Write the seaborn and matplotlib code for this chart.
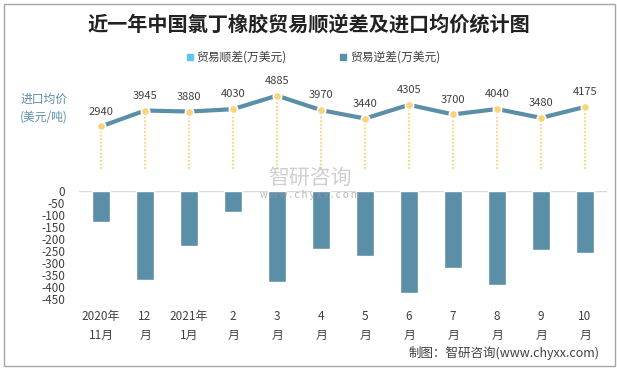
import pandas as pd
import seaborn as sns
import matplotlib
matplotlib.use('Agg')
import matplotlib.pyplot as plt
from matplotlib.patches import Rectangle

# 数据
months = ['2020年\n11月', '12\n月', '2021年\n1月', '2\n月', '3\n月', '4\n月',
          '5\n月', '6\n月', '7\n月', '8\n月', '9\n月', '10\n月']
surplus = [0] * 12  # 贸易顺差(万美元)
deficit = [-128, -369, -228, -87, -381, -240, -269, -427, -319, -390, -244, -257]  # 贸易逆差(万美元)
price = [2940, 3945, 3880, 4030, 4885, 3970, 3440, 4305, 3700, 4040, 3480, 4175]  # 进口均价(美元/吨)

sns.set_theme(style='white')
plt.rcParams['font.family'] = ['Noto Sans CJK SC', 'DejaVu Sans']
plt.rcParams['axes.unicode_minus'] = False

BLUE = '#5B8FA8'
LIGHT = '#5BC8F0'
GOLD = '#F8D47A'
TXT = '#404040'

df = pd.DataFrame({'月份': months, '逆差': deficit, '均价': price, 'x': range(12)})

W, H = 617, 370
fig = plt.figure(figsize=(W / 100, H / 100), dpi=100)

def box(l, t, r, b):
    return [l / W, 1 - b / H, (r - l) / W, (b - t) / H]

# 下方柱状图
ax = fig.add_axes(box(79, 191, 607, 299))
sns.barplot(data=df, x='月份', y='逆差', color=BLUE, width=0.41, saturation=1, ax=ax)
ax.set_ylim(-450, 0)
ax.set_xlim(-0.5, 11.5)
ax.set_yticks(range(-450, 1, 50))
ax.tick_params(axis='y', labelsize=8.5, colors=TXT, pad=10, length=0)
ax.tick_params(axis='x', labelsize=8.5, colors=TXT, pad=8, length=0)
for lbl in ax.get_xticklabels():
    lbl.set_linespacing(1.55)
ax.set_xlabel('')
ax.set_ylabel('')
for s in ax.spines.values():
    s.set_visible(False)
ax.axhline(0, color='#D9D9D9', lw=1, zorder=0)

# 上方折线图
ax2 = fig.add_axes(box(79, 78, 607, 169))
ax2.vlines(df['x'], 250, df['均价'], colors=GOLD, linestyles=(0, (1, 1)), lw=1.3, zorder=1)
sns.lineplot(data=df, x='x', y='均价', color=BLUE, lw=3, ax=ax2, zorder=2)
ax2.plot(df['x'], df['均价'], 'o', color=GOLD, ms=6, mec='white', mew=1.2, zorder=3)
for xi, v in zip(df['x'], df['均价']):
    ax2.text(xi, v + 620, str(v), ha='center', va='bottom', fontsize=8, color=TXT)
ax2.set_xlim(-0.5, 11.5)
ax2.set_ylim(250, 6000)
ax2.axis('off')

# 标题与图例
fig.text(309 / W, 1 - 24 / H, '近一年中国氯丁橡胶贸易顺逆差及进口均价统计图',
         ha='center', va='center', fontsize=14.5, fontweight='bold', color='#222222')
fig.patches.append(Rectangle((187 / W, 1 - 60 / H), 6 / W, 6 / H, color=LIGHT, transform=fig.transFigure))
fig.text(196 / W, 1 - 57 / H, '贸易顺差(万美元)', ha='left', va='center', fontsize=8.5, color=TXT)
fig.patches.append(Rectangle((340 / W, 1 - 60 / H), 6 / W, 6 / H, color=BLUE, transform=fig.transFigure))
fig.text(350 / W, 1 - 57 / H, '贸易逆差(万美元)', ha='left', va='center', fontsize=8.5, color=TXT)

fig.text(44 / W, 1 - 108 / H, '进口均价\n(美元/吨)', ha='center', va='center',
         fontsize=8.5, color=BLUE, linespacing=1.5)

# 水印
fig.text(310 / W, 1 - 178 / H, '智研咨询', ha='center', va='center', fontsize=15,
         color='#BBBBBB', alpha=0.7, zorder=0)
fig.text(310 / W, 1 - 195 / H, 'w w w . c h y x x . c o m', ha='center', va='center',
         fontsize=7, color='#999999', alpha=0.7)

fig.text(600 / W, 1 - 353 / H, '制图：智研咨询(www.chyxx.com)', ha='right', va='center',
         fontsize=9, color=TXT)

# 外边框
fig.patches.append(Rectangle((4 / W, 4 / H), 611 / W, 362 / H, fill=False,
                             ec='#A6A6A6', lw=1, transform=fig.transFigure))

fig.savefig('out.png', dpi=100)
